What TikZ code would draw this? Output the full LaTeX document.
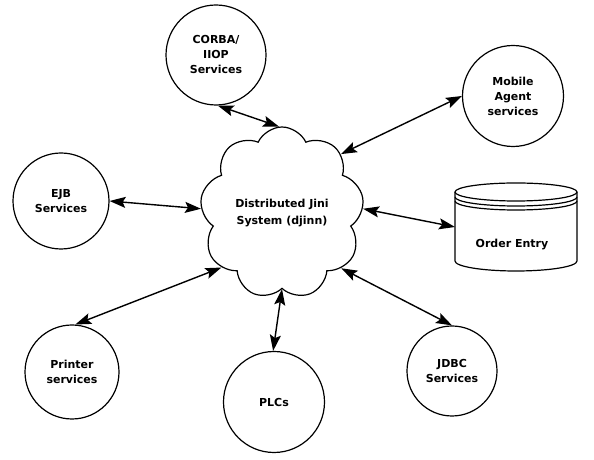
\documentclass[tikz,border=0pt]{standalone}
\usepackage{fontspec}
\setmainfont{DejaVu Sans}
\usetikzlibrary{arrows.meta, shapes.symbols}

\begin{document}
\begin{tikzpicture}[x=1pt, y=1pt, line width=1.2pt,
  >={Stealth[length=16pt, width=11pt, inset=3pt]},
  font=\fontsize{11}{15}\selectfont\bfseries,
  service/.style={draw, circle, align=center, inner sep=0pt},
  link/.style={<->, line width=1.4pt}]
  \useasboundingbox (0,0) rectangle (594,460);

  % Jini cloud in the middle
  \node[draw, cloud, cloud puffs=9, cloud puff arc=130,
        minimum width=156pt, minimum height=172pt, align=center,
        font=\fontsize{11}{17}\selectfont\bfseries]
        (djinn) at (282,247) {Distributed Jini\\System (djinn)};

  % Services round it
  \node[service, minimum size=100pt] (corba)   at (216,405) {CORBA/\\IIOP\\Services};
  \node[service, minimum size=101pt] (mobile)  at (513,364) {Mobile\\Agent\\services};
  \node[service, minimum size=96pt]  (ejb)     at (61,259)  {EJB\\Services};
  \node[service, minimum size=94pt]  (printer) at (72,88)   {Printer\\services};
  \node[service, minimum size=101pt] (plcs)    at (274,58)  {PLCs};
  \node[service, minimum size=90pt]  (jdbc)    at (452,89)  {JDBC\\Services};

  % Order entry database, drawn round an empty box
  \node[minimum width=122pt, minimum height=88pt, outer sep=0pt]
        (order) at (516,233) {};
  \draw ([yshift=-9pt]order.north) ellipse [x radius=61pt, y radius=9pt];
  \draw ([yshift=-9pt]order.north west) -- ([yshift=10pt]order.south west)
    arc[start angle=180, end angle=360, x radius=61pt, y radius=10pt]
    -- ([yshift=-9pt]order.north east);
  \draw ([yshift=-14pt]order.north west)
    arc[start angle=180, end angle=360, x radius=61pt, y radius=9pt];
  \draw ([yshift=-18pt]order.north west)
    arc[start angle=180, end angle=360, x radius=61pt, y radius=9pt];
  \node (orderlbl) at ([xshift=-4pt, yshift=-18pt]order.center) {Order Entry};

  % Links to the djinn
  \draw[link] (corba.-88)  -- (djinn.92);
  \draw[link] (mobile.180) -- (djinn.45);
  \draw[link] (ejb.0)      -- (djinn.177);
  \draw[link] (order.west) -- (djinn.3);
  \draw[link] (printer.86) -- (djinn.222);
  \draw[link] (plcs.91)    -- (djinn.270);
  \draw[link] (jdbc.90)    -- (djinn.317);
\end{tikzpicture}
\end{document}
